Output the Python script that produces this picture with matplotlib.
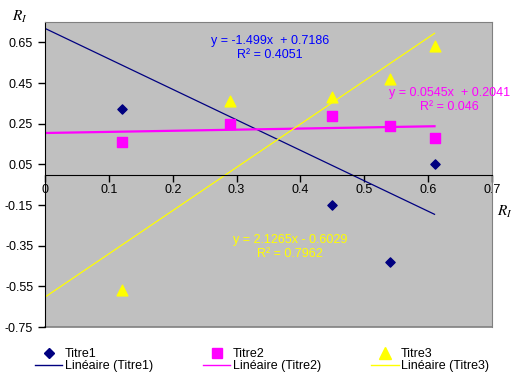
import numpy as np
import matplotlib
matplotlib.use("Agg")
import matplotlib.pyplot as plt
from matplotlib.lines import Line2D

plt.rcParams['font.family'] = ['Liberation Sans', 'DejaVu Sans']
plt.rcParams['mathtext.fontset'] = 'stix'

# Data
x1 = [0.12, 0.29, 0.45, 0.54, 0.61]
t1 = [0.32, 0.79, -0.15, -0.43, 0.05]   # second point lies above the plot range (clipped)
x2 = [0.12, 0.29, 0.45, 0.54, 0.61]
t2 = [0.16, 0.25, 0.29, 0.24, 0.18]
x3 = [0.12, 0.29, 0.45, 0.54, 0.61]
t3 = [-0.57, 0.36, 0.38, 0.47, 0.63]

fits = {
    'Titre1': (-1.499, 0.7186, 0.4051),
    'Titre2': (0.0545, 0.2041, 0.046),
    'Titre3': (2.1265, -0.6029, 0.7962),
}
xticks = [0, 0.1, 0.2, 0.3, 0.4, 0.5, 0.6, 0.7]
yticks = [-0.75, -0.55, -0.35, -0.15, 0.05, 0.25, 0.45, 0.65]

navy = '#000080'
mag = '#FF00FF'
yel = '#FFFF00'

fig = plt.figure(figsize=(5.15, 3.75), dpi=100)
ax = fig.add_axes([45/515, 1-327/375, (492-45)/515, (327-22)/375])
ax.set_facecolor('#C0C0C0')
ax.set_xlim(0, 0.7)
ax.set_ylim(-0.75, 0.75)

ax.scatter(x1, t1, marker='D', s=22, color=navy, zorder=3, clip_on=True)
ax.scatter(x2, t2, marker='s', s=55, color=mag, zorder=3)
ax.scatter(x3, t3, marker='^', s=60, color=yel, zorder=3)

xs = np.array([0.0, 0.61])
for name, col, lw in [('Titre1', navy, 0.9), ('Titre2', mag, 1.6), ('Titre3', yel, 0.9)]:
    a, b, r2 = fits[name]
    ax.plot(xs, a*xs + b, color=col, lw=lw, zorder=2)

a, b, r2 = fits['Titre1']
ax.text(0.352, 0.623, f"y = {a:g}x  + {b:g}\nR² = {r2:g}", color='#0000FF', fontsize=9,
        ha='center', va='center', linespacing=1.25)
a, b, r2 = fits['Titre2']
ax.text(0.633, 0.367, f"y = {a:g}x  + {b:g}\nR² = {r2:g}", color=mag, fontsize=9,
        ha='center', va='center', linespacing=1.25, clip_on=False)
a, b, r2 = fits['Titre3']
ax.text(0.384, -0.355, f"y = {a:g}x - {abs(b):g}\nR² = {r2:g}", color=yel, fontsize=9,
        ha='center', va='center', linespacing=1.25)

# spines
for s in ['top', 'right']:
    ax.spines[s].set_color('#808080')
ax.spines['left'].set_color('black')
ax.spines['bottom'].set_position(('data', 0))
ax.spines['bottom'].set_color('black')
ax.axhline(-0.75, color='#808080', lw=1.2, zorder=1, clip_on=False)

ax.set_xticks(xticks)
ax.set_xticklabels([f"{v:g}" for v in xticks])
ax.set_yticks(yticks)
ax.set_yticklabels([f"{v:.2f}" for v in yticks])
ax.tick_params(axis='both', direction='out', length=5, width=1, labelsize=9, colors='black')
ax.tick_params(axis='x', pad=2)

fig.text(12/515, 1-17/375, r'$\mathit{R_I}$', fontsize=11, ha='left', va='center')
fig.text(497/515, 1-212/375, r'$\mathit{R_I}$', fontsize=11, ha='left', va='center')

handles = [
    Line2D([], [], ls='none', marker='D', ms=5, color=navy),
    Line2D([], [], color=navy, lw=1),
    Line2D([], [], ls='none', marker='s', ms=7, color=mag),
    Line2D([], [], color=mag, lw=1),
    Line2D([], [], ls='none', marker='^', ms=8, color=yel),
    Line2D([], [], color=yel, lw=1),
]
labels = ['Titre1', 'Linéaire (Titre1)', 'Titre2', 'Linéaire (Titre2)', 'Titre3', 'Linéaire (Titre3)']
fig.legend(handles, labels, ncol=3, loc='lower left', bbox_to_anchor=(26/515, -6/375),
           frameon=False, fontsize=9, handlelength=2.2, handletextpad=0.2,
           columnspacing=4.0, labelspacing=0.0, borderpad=0.2)

fig.savefig('out.png', dpi=100)
